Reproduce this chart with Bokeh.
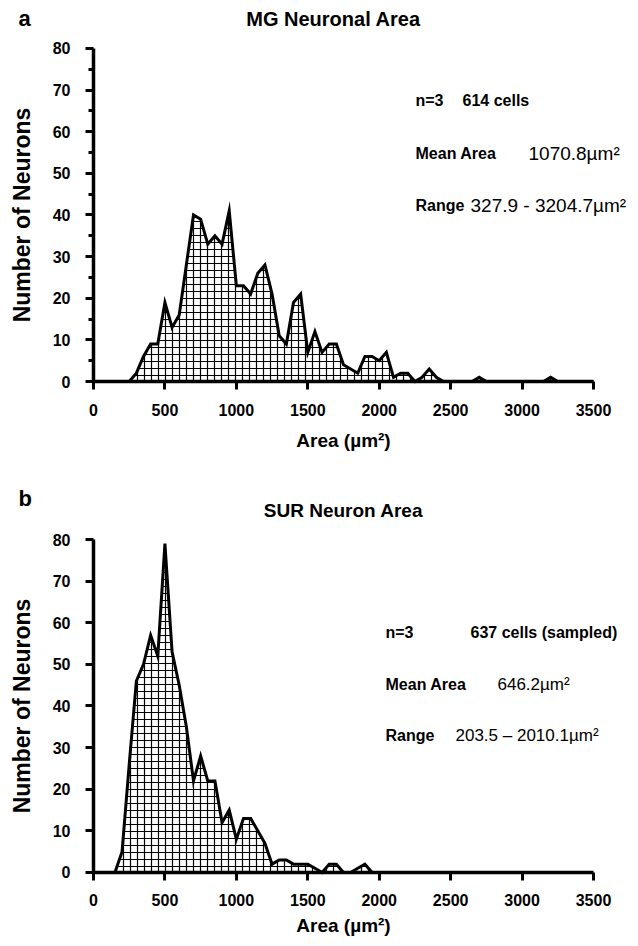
import math
from bokeh.plotting import figure
from bokeh.layouts import column
from bokeh.models import Label, Range1d, FixedTicker
from bokeh.embed import file_html
from bokeh.resources import INLINE

FONT = "Liberation Sans"

# ---- Data: MG neuronal area (panel a) ----
mg_area = [250, 300, 350, 400, 450, 500, 550, 600, 650, 700, 750, 800, 850, 900, 950,
           1000, 1050, 1100, 1150, 1200, 1250, 1300, 1350, 1400, 1450, 1500, 1550, 1600,
           1650, 1700, 1750, 1800, 1850, 1900, 1950, 2000, 2050, 2100, 2150, 2200, 2250,
           2300, 2350, 2400, 2450, 2500, 2550, 2600, 2650, 2700, 2750, 2800, 2850, 2900,
           2950, 3000, 3050, 3100, 3150, 3200, 3250, 3300, 3350, 3400, 3450, 3500]
mg_count = [0, 2, 6, 9, 9, 19, 13, 16, 28, 40, 39, 33, 35, 33, 41,
            23, 23, 21, 26, 28, 21, 11, 9, 19, 21, 7, 12, 7,
            9, 9, 4, 3, 2, 6, 6, 5, 7, 1, 2, 2, 0,
            1, 3, 1, 0, 0, 0, 0, 0, 1, 0, 0, 0, 0,
            0, 0, 0, 0, 0, 1, 0, 0, 0, 0, 0, 0]

# ---- Data: SUR neuron area (panel b) ----
sur_area = [150, 200, 250, 300, 350, 400, 450, 500, 550, 600, 650, 700, 750, 800, 850,
            900, 950, 1000, 1050, 1100, 1150, 1200, 1250, 1300, 1350, 1400, 1450, 1500,
            1550, 1600, 1650, 1700, 1750, 1800, 1850, 1900, 1950, 2000]
sur_count = [0, 5, 26, 46, 50, 57, 52, 79, 53, 45, 35, 22, 28, 22, 22,
             12, 15, 8, 13, 13, 10, 7, 2, 3, 3, 2, 2, 2,
             1, 0, 2, 2, 0, 0, 1, 2, 0, 0]

x_ticks = [0, 500, 1000, 1500, 2000, 2500, 3000, 3500]
y_ticks = [0, 10, 20, 30, 40, 50, 60, 70, 80]
y_minor_a = [5, 15, 25, 35, 45, 55, 65, 75]

panels = [
    dict(letter="a", title="MG Neuronal Area", area=mg_area, count=mg_count, minor=y_minor_a,
         height=470, yr=(-21.38, 91.53), title_size="20px",
         letter_pos=(-525, 87.2), title_pos=(1680, 87.2), xlabel_pos=(1750, -14.2),
         bold_size="16px", num_size="19px",
         stats=[("n=3", 2254, 67.5, "bold"), ("614 cells", 2583, 67.5, "bold"),
                ("Mean Area", 2254, 54.8, "bold"), ("1070.8µm²", 3045, 54.8, "normal"),
                ("Range", 2254, 42.3, "bold"), ("327.9 - 3204.7µm²", 2639, 42.3, "normal")]),
    dict(letter="b", title="SUR Neuron Area", area=sur_area, count=sur_count, minor=[],
         height=468, yr=(-15.86, 96.58), title_size="19px",
         letter_pos=(-525, 89.85), title_pos=(1750, 86.97), xlabel_pos=(1750, -12.7),
         bold_size="16px", num_size="17px",
         stats=[("n=3", 2044, 57.66, "bold"), ("637 cells (sampled)", 2639, 57.66, "bold"),
                ("Mean Area", 2044, 45.16, "bold"), ("646.2µm²", 2828, 45.16, "normal"),
                ("Range", 2044, 32.91, "bold"), ("203.5 – 2010.1µm²", 2534, 32.91, "normal")]),
]

figs = []
for pd_ in panels:
    p = figure(width=630, height=pd_["height"], min_border=0,
               min_border_left=0, min_border_right=0, min_border_top=0, min_border_bottom=0,
               output_backend="svg", toolbar_location=None,
               x_range=Range1d(-651, 3759), y_range=Range1d(*pd_["yr"]))
    p.outline_line_color = None
    p.xgrid.visible = False
    p.ygrid.visible = False
    p.background_fill_color = "white"
    p.border_fill_color = "white"

    p.varea(x=pd_["area"], y1=0, y2=pd_["count"], fill_color="white",
            hatch_pattern="+", hatch_scale=7, hatch_weight=1.2, hatch_color="black")
    p.line(x=pd_["area"], y=pd_["count"], line_color="black", line_width=3,
           line_join="miter")

    for ax in (p.xaxis[0], p.yaxis[0]):
        ax.fixed_location = 0
        ax.axis_line_width = 3.5
        ax.major_tick_line_width = 3
        ax.minor_tick_line_width = 3
        ax.major_tick_in = 0
        ax.major_tick_out = 8
        ax.minor_tick_in = 0
        ax.major_label_text_font = FONT
        ax.major_label_text_font_style = "bold"
        ax.major_label_text_font_size = "16px"
        ax.major_label_text_color = "black"

    p.xaxis.bounds = (0, 3500)
    p.xaxis.ticker = FixedTicker(ticks=x_ticks)
    p.xaxis.minor_tick_out = 0
    p.xaxis.major_label_standoff = 14

    p.yaxis.bounds = (0, 80)
    p.yaxis.ticker = FixedTicker(ticks=y_ticks, minor_ticks=pd_["minor"])
    p.yaxis.minor_tick_out = 5
    p.yaxis.major_label_standoff = 15

    p.add_layout(Label(x=pd_["letter_pos"][0], y=pd_["letter_pos"][1], text=pd_["letter"],
                       text_font=FONT, text_font_style="bold", text_font_size="22px",
                       text_align="left", text_baseline="middle", text_color="black"))
    p.add_layout(Label(x=pd_["title_pos"][0], y=pd_["title_pos"][1], text=pd_["title"],
                       text_font=FONT, text_font_style="bold", text_font_size=pd_["title_size"],
                       text_align="center", text_baseline="middle", text_color="black"))
    p.add_layout(Label(x=pd_["xlabel_pos"][0], y=pd_["xlabel_pos"][1], text="Area (µm²)",
                       text_font=FONT, text_font_style="bold", text_font_size="19px",
                       text_align="center", text_baseline="middle", text_color="black"))
    p.add_layout(Label(x=-504, y=40, text="Number of Neurons", angle=math.pi / 2,
                       text_font=FONT, text_font_style="bold", text_font_size="23px",
                       text_align="center", text_baseline="middle", text_color="black"))
    for txt, sx, sy, style in pd_["stats"]:
        size = pd_["bold_size"] if style == "bold" else pd_["num_size"]
        p.add_layout(Label(x=sx, y=sy, text=txt, text_font=FONT, text_font_style=style,
                           text_font_size=size, text_align="left", text_baseline="middle",
                           text_color="black"))
    figs.append(p)

layout = column(*figs, spacing=0)
open("out.html", "w").write(file_html(layout, INLINE))
